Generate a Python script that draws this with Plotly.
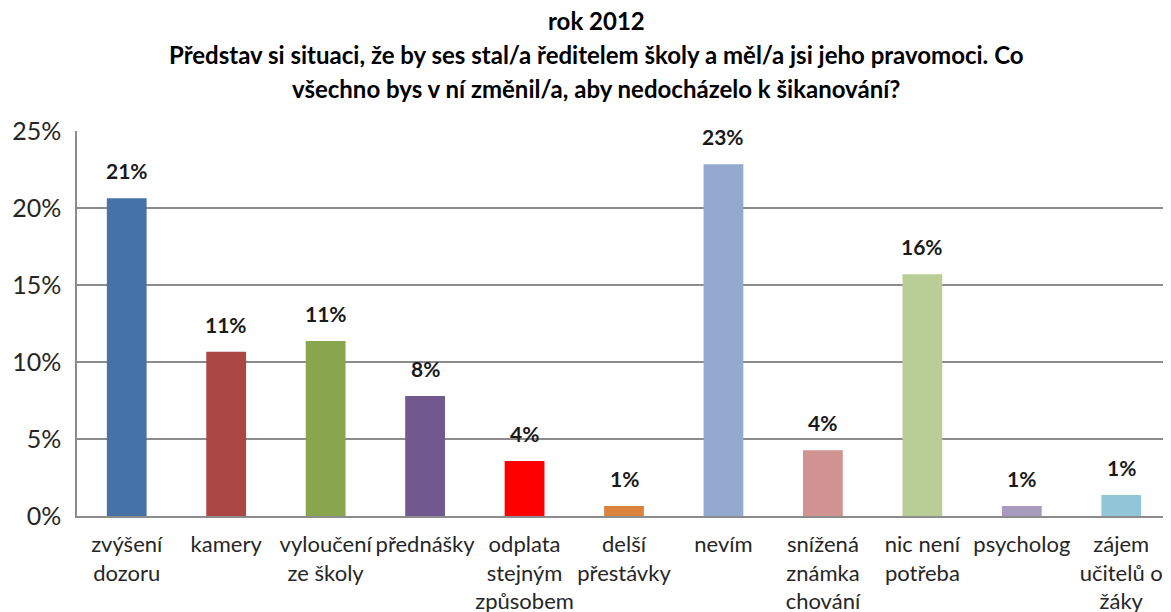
import plotly.graph_objects as go

categories = ["zvýšení<br>dozoru", "kamery", "vyloučení<br>ze školy", "přednášky",
              "odplata<br>stejným<br>způsobem", "delší<br>přestávky", "nevím",
              "snížená<br>známka<br>chování", "nic není<br>potřeba", "psycholog",
              "zájem<br>učitelů o<br>žáky"]
values = [0.2063, 0.1067, 0.1136, 0.078, 0.0357, 0.0065, 0.2284, 0.0427, 0.1569, 0.0065, 0.0136]
colors = ["#4572A7", "#AA4643", "#89A54E", "#71588F", "#FF0000", "#DB843D",
          "#93A9CF", "#D19392", "#B9CD96", "#A99BBD", "#92C5D8"]
title_lines = ["rok 2012",
               "Představ si situaci, že by ses stal/a ředitelem školy a měl/a jsi jeho pravomoci. Co",
               "všechno bys v ní změnil/a, aby nedocházelo k šikanování?"]
y_ticks = [0, 0.05, 0.10, 0.15, 0.20, 0.25]

FONT = "Lato"
OFF = 8  # page body margin
W, H = 1171 - OFF, 612 - OFF
L, TOP, BOT = 77 - OFF, 131 - OFF, 96
plot_h = H - TOP - BOT
plot_w = W - L

fig = go.Figure()
fig.add_trace(go.Bar(x=categories, y=values, marker=dict(color=colors, line=dict(width=0)),
                     width=0.4, hoverinfo="skip"))

for c, v in zip(categories, values):
    fig.add_annotation(x=c, y=v, xref="x", yref="y", text=f"{v:.0%}", showarrow=False,
                       yanchor="bottom", yshift=13,
                       font=dict(family=FONT, size=21, color="#1a1a1a", weight="bold"))

title_y = [21, 55, 88]
title_cx = 596
for t, yy in zip(title_lines, title_y):
    fig.add_annotation(x=(title_cx - OFF - L) / plot_w, xref="paper",
                       y=(H - BOT - (yy - OFF)) / plot_h, yref="paper",
                       text=t, showarrow=False, yanchor="middle", xanchor="center",
                       font=dict(family=FONT, size=24, color="#000000", weight="bold"))

fig.update_layout(
    width=W, height=H,
    margin=dict(l=L, r=0, t=TOP, b=BOT),
    paper_bgcolor="white", plot_bgcolor="white",
    showlegend=False,
    font=dict(family=FONT, color="#262626"),
    bargap=0.6,
)
fig.update_xaxes(showline=True, linecolor="#8c8c8c", linewidth=1.5, ticks="",
                 tickfont=dict(family=FONT, size=22, color="#262626"),
                 ticklabelstandoff=8, tickangle=0, automargin=False)
fig.update_yaxes(range=[0, 0.25], tickvals=y_ticks, tickformat=".0%",
                 showgrid=True, gridcolor="#8c8c8c", gridwidth=1.5,
                 showline=True, linecolor="#8c8c8c", linewidth=1.5,
                 zeroline=False, ticks="", automargin=False,
                 tickfont=dict(family=FONT, size=25, color="#262626"),
                 ticklabelstandoff=9)

fig.write_html("out.html")
